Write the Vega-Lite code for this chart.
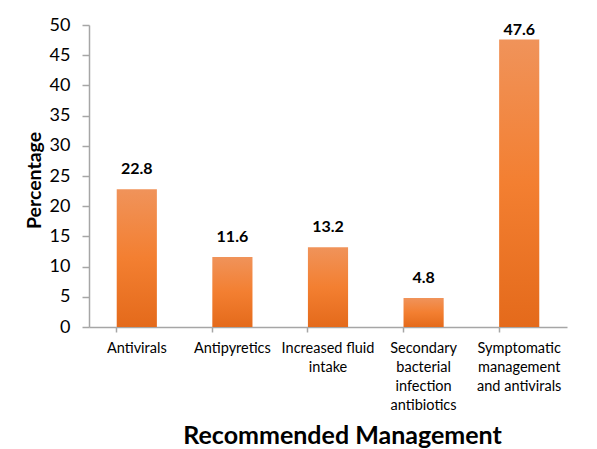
{
  "$schema": "https://vega.github.io/schema/vega-lite/v6.json",
  "width": 478,
  "height": 302,
  "autosize": {"type": "none"},
  "padding": {"left": 89, "top": 25, "right": 30, "bottom": 122},
  "background": "white",
  "config": {"view": {"stroke": null}, "font": "Lato"},
  "data": {
    "values": [
      {"category": "Antivirals", "value": 22.8},
      {"category": "Antipyretics", "value": 11.6},
      {"category": "Increased fluid|intake", "value": 13.2},
      {"category": "Secondary|bacterial|infection|antibiotics", "value": 4.8},
      {"category": "Symptomatic|management|and antivirals", "value": 47.6}
    ]
  },
  "encoding": {
    "x": {
      "field": "category",
      "type": "nominal",
      "sort": null,
      "scale": {"paddingInner": 0.58, "paddingOuter": 0.29},
      "axis": {
        "title": "Recommended Management",
        "titleFont": "Lato",
        "titleFontSize": 25,
        "titleFontWeight": "bold",
        "titleColor": "#000000",
        "titleX": 253,
        "titleY": 116,
        "titleBaseline": "alphabetic",
        "labelAngle": 0,
        "labelExpr": "split(datum.label, '|')",
        "labelFontSize": 14.5,
        "labelLineHeight": 19,
        "labelColor": "#000000",
        "labelPadding": 9,
        "labelBaseline": "top",
        "bandPosition": 0,
        "domainColor": "#A6A6A6",
        "domainWidth": 1.5,
        "tickColor": "#A6A6A6",
        "tickSize": 5,
        "tickWidth": 1.5,
        "grid": false
      }
    },
    "y": {
      "field": "value",
      "type": "quantitative",
      "scale": {"domain": [0, 50]},
      "axis": {
        "title": "Percentage",
        "titleFontSize": 19.5,
        "titleFontWeight": "bold",
        "titleColor": "#000000",
        "titlePadding": 5,
        "titleY": 155,
        "values": [0, 5, 10, 15, 20, 25, 30, 35, 40, 45, 50],
        "labelFontSize": 18,
        "labelColor": "#000000",
        "labelPadding": 12,
        "domainColor": "#A6A6A6",
        "domainWidth": 1.5,
        "tickColor": "#A6A6A6",
        "tickSize": 7,
        "tickWidth": 1.5,
        "grid": false
      }
    }
  },
  "layer": [
    {
      "mark": {
        "type": "bar",
        "color": {
          "gradient": "linear",
          "x1": 0, "y1": 0, "x2": 0, "y2": 1,
          "stops": [
            {"offset": 0, "color": "#F0935A"},
            {"offset": 0.5, "color": "#F37F31"},
            {"offset": 1, "color": "#E46A1B"}
          ]
        }
      }
    },
    {
      "transform": [{"filter": "datum.value < 45"}],
      "mark": {"type": "text", "baseline": "alphabetic", "dy": -15, "fontSize": 16, "fontWeight": "bold", "color": "#000000"},
      "encoding": {"text": {"field": "value", "type": "quantitative", "format": ".1f"}}
    },
    {
      "transform": [{"filter": "datum.value >= 45"}],
      "mark": {"type": "text", "baseline": "alphabetic", "dy": -4, "fontSize": 16, "fontWeight": "bold", "color": "#000000"},
      "encoding": {"text": {"field": "value", "type": "quantitative", "format": ".1f"}}
    }
  ]
}
